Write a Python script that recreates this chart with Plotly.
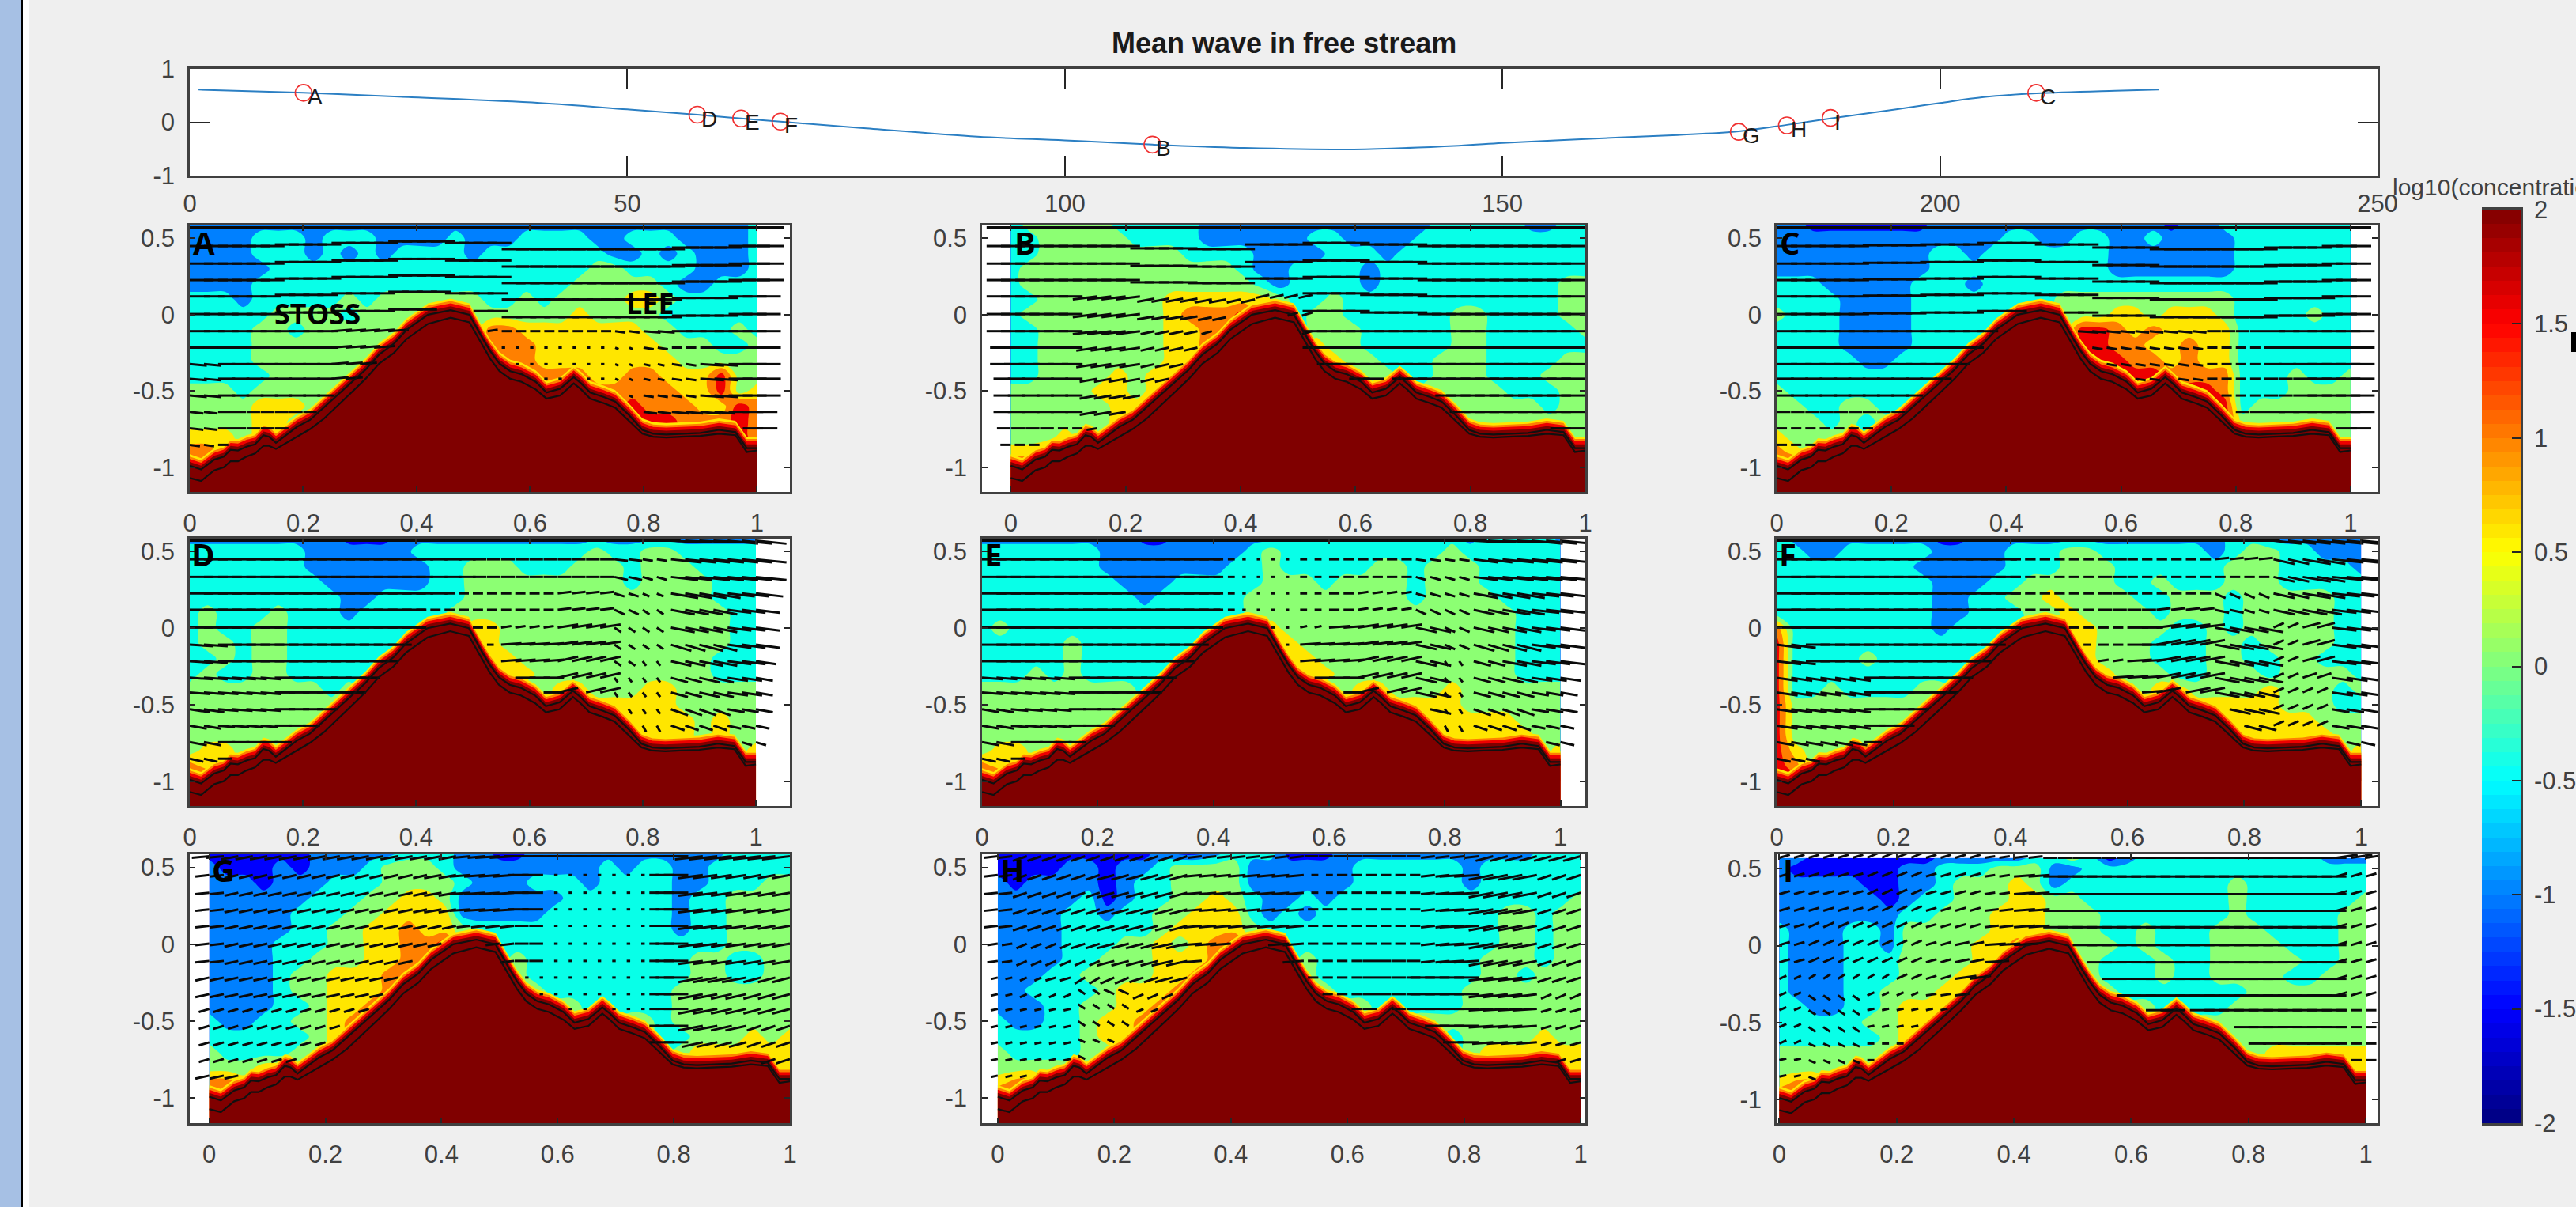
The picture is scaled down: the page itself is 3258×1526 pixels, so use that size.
import numpy as np
import plotly.graph_objects as go

W, H = 3258, 1526
# ---------- top panel ----------
WAVE_X = [1, 13, 25, 40, 50, 58, 63, 67.5, 77, 90, 100, 110, 120, 133, 145, 150, 160, 170, 177, 182.5, 187.5, 195, 200, 205, 211, 220, 225]
WAVE_Y = [.61, .55, .47, .36, .24, .14, .07, .01, -.11, -.27, -.34, -.42, -.48, -.51, -.44, -.39, -.31, -.24, -.17, -.05, .07, .24, .36, .47, .54, .59, .61]
POINT_LABELS = ["A", "D", "E", "F", "B", "G", "H", "I", "C"]
POINT_X = [13, 58, 63, 67.5, 110, 177, 182.5, 187.5, 211]
POINT_Y = [.55, .14, .07, .01, -.42, -.18, -.06, .08, .55]

# ---------- sea bed ----------
BED_X = [0, .02, .043, .06, .072, .085, .1, .115, .13, .14, .152, .17, .189, .212, .237, .26, .285, .31, .334, .36, .382, .42, .46, .493, .517, .53, .546, .565, .585, .61, .629, .653, .677, .69, .706, .73, .75, .775, .798, .817, .84, .866, .9, .933, .962, .982, 1]
BED_UPPER = [-.99, -1.015, -.95, -.93, -.885, -.89, -.865, -.85, -.79, -.80, -.84, -.79, -.735, -.69, -.605, -.53, -.44, -.36, -.26, -.19, -.10, 0, .03, 0, -.16, -.24, -.32, -.37, -.39, -.44, -.51, -.485, -.41, -.45, -.51, -.54, -.57, -.66, -.755, -.78, -.785, -.78, -.775, -.755, -.77, -.875, -.875]
BED_LOWER = [-1.07, -1.09, -1.02, -1.0, -.96, -.96, -.93, -.91, -.86, -.86, -.88, -.84, -.8, -.75, -.68, -.6, -.51, -.42, -.32, -.25, -.16, -.06, -.02, -.05, -.21, -.29, -.37, -.42, -.44, -.49, -.55, -.53, -.45, -.49, -.55, -.58, -.61, -.7, -.78, -.8, -.805, -.8, -.795, -.78, -.79, -.9, -.89]
BAND_OFFSETS = [.075, .06, .045, .025]
BAND_COLORS = ["#ffe600", "#ff8000", "#ee0000", "#800000"]

# ---------- concentration classes (log10 band centres and colours) ----------
CLASS_VALUES = [-1.25, -.75, -.25, .25, .75, 1.25, 1.75, 2.25]
CLASS_COLORS = ["#0000ff", "#0080ff", "#08ffe8", "#8cff73", "#ffe600", "#ff8000", "#ee0000", "#800000"]
FIELD_Y = [.6, .5, .4, .3, .2, .1, 0, -.1, -.2, -.3, -.4, -.5, -.6, -.7, -.8, -.9, -1]

FIELD_A = [
"11111111 11111111 11111111 11111111 2",
"11112221 22211112 11122221 12221111 2",
"11112221 21212222 12222222 11212111 2",
"11111222 22222222 22222223 32222111 2",
"11112222 22222222 22222233 33321122 2",
"22212222 23233333 32232333 34432222 2",
"22222333 32333333 33333343 33322222 2",
"22223323 33333... .5544444 44332223 2",
"22223333 3333.... .5554444 44433322 3",
"22223333 333..... ..554444 44443333 3",
"22222333 33...... ...55554 45544463 3",
"33323333 3....... .......5 55554463 4",
"33334443 ........ ........ .6555446 5",
"3333443. ........ ........ ..665556 5",
"444344.. ........ ........ ........ 5",
"554..... ........ ........ ........ 6",
"66...... ........ ........ ........ 6"]
FIELD_B = [
"23333322 22211111 11111111 22222112 2",
"22333332 22211111 12211112 22222222 2",
"22333333 33222211 11222122 22222222 2",
"23333333 33333211 22221222 22222222 2",
"23333333 33333321 22221222 22222223 3",
"22333333 34444443 22322222 22222223 3",
"23333333 345556.. .3322222 23322223 3",
"22333333 34455... .3332222 23322222 3",
"22333333 3445.... .4332222 23322222 2",
"22333333 344..... ..433222 33322223 3",
"22333343 44...... ...43322 33322233 3",
"33333443 4....... .......3 33332223 3",
"33333344 ........ ........ .3333323 3",
"3333334. ........ ........ ..333333 3",
"33343... ........ ........ ........ 3",
"445..... ........ ........ ........ 4",
"66...... ........ ........ ........ 6"]
FIELD_C = [
"11000000 01111111 11111101 12222222 2",
"11111111 11111221 12211211 11222222 2",
"11111111 12212222 22211111 11222222 2",
"11111111 12222222 22211111 11222222 2",
"22211111 22212222 22222222 22222222 2",
"22221111 22222222 33333333 33222222 2",
"32221111 222222.. .3344344 43222232 2",
"22221111 22222... .6654544 44222222 2",
"22221111 2222.... .6655445 44222222 2",
"22222112 222..... ..665545 44222222 2",
"22222222 22...... ...66655 55222322 3",
"32222222 2....... .......6 65222333 3",
"33223322 ........ ........ .6233333 3",
"3332323. ........ ........ ..333333 3",
"43333... ........ ........ ........ 3",
"54...... ........ ........ ........ 4",
"66...... ........ ........ ........ 6"]
FIELD_D = [
"11111111 10001111 11111111 11111111 1",
"22222221 11111222 22222223 22332222 2",
"22222221 11111122 33322233 32333222 2",
"22222222 11111122 33333333 32333322 2",
"22222222 21122222 33333333 33333322 2",
"23222322 21222223 33333333 33333332 2",
"23223322 222222.. 44333333 33333332 2",
"23323322 22222... .4333333 33333332 2",
"22323322 2222.... .4433333 33333322 2",
"23223322 222..... ..443333 33333322 2",
"33333333 23...... ...33443 33443333 3",
"33333333 3....... .......4 44443333 3",
"33333333 ........ ........ .4444343 3",
"3333333. ........ ........ ..444343 3",
"34433... ........ ........ ........ 4",
"544..... ........ ........ ........ 4",
"66...... ........ ........ ........ 6"]
FIELD_E = [
"11111111 10011111 12222222 22212222 1",
"22222221 11111112 32222222 22322222 2",
"22222221 11111122 32222233 23332222 2",
"22222222 11122222 33323333 23332222 2",
"22222222 21222223 33333333 23333222 2",
"22222222 22222223 33333333 33333322 2",
"23222222 222222.. 43333333 33333322 2",
"22222322 22222... .4333333 33333322 2",
"22222322 2222.... .4433333 33333322 2",
"22232322 222..... ..443333 33333322 2",
"33333333 32...... ...33443 33433333 3",
"33333333 3....... .......4 44433333 3",
"33333333 ........ ........ .4444433 3",
"3333333. ........ ........ ..444443 3",
"34433... ........ ........ ........ 4",
"544..... ........ ........ ........ 4",
"66...... ........ ........ ........ 6"]
FIELD_F = [
"21111111 10011111 11111111 12211111 1",
"22112222 21111222 33222222 12332211 1",
"22222222 11111222 33322222 23332222 1",
"22222222 21112233 33322322 23332222 2",
"22222222 21122334 33332233 32333332 2",
"22222222 21122233 43333233 32333332 2",
"52222222 212222.. 44333322 32333332 2",
"62222222 22222... .4333222 33233332 2",
"62222322 2222.... .4333222 33223322 2",
"62222222 222..... ..433322 33323333 2",
"62232222 33...... ...33443 33343332 3",
"63333333 3....... .......4 44443332 2",
"63333333 ........ ........ .4444433 3",
"6333333. ........ ........ ..444443 3",
"64333... ........ ........ ........ 4",
"65...... ........ ........ ........ 4",
"66...... ........ ........ ........ 6"]
FIELD_G = [
"00000011 11122211 00111111 11111222 2",
"10001011 12333211 11111121 22112222 2",
"11101112 22333321 11222122 22112223 3",
"11111122 23344311 11112222 22122333 3",
"11111222 33444411 11122222 22122333 3",
"11111223 34454432 22222222 22122333 3",
"11112223 344556.. ..222222 22222333 3",
"11112233 34455... .3222222 22233223 3",
"11112334 4455.... .3222222 22233223 3",
"11112334 445..... ..322222 22333333 3",
"11112234 45...... ...33222 22333333 3",
"21122334 5....... .......3 32333333 3",
"22222234 ........ ........ .2233343 4",
"3222233. ........ ........ ..344444 4",
"33344... ........ ........ ........ 4",
"554..... ........ ........ ........ 4",
"66...... ........ ........ ........ 6"]
FIELD_H = [
"00000000 01001222 00011111 11111122 2",
"00001101 12333311 11112222 22122222 2",
"10111101 22333311 11112222 22122222 2",
"11111201 22334321 12122222 22222222 3",
"11112212 23344421 21222222 22223323 3",
"11112222 23444432 22222222 22223323 3",
"11112223 343456.. ..222222 22223323 3",
"11112233 34445... .3222222 22233323 3",
"11122333 3445.... .3222222 22233233 3",
"11222234 445..... ..322222 22333333 3",
"11122334 45...... ...33222 22333333 3",
"21122344 5....... .......3 33333333 3",
"22222344 ........ ........ .2333343 3",
"3222233. ........ ........ ..344444 4",
"33333... ........ ........ ........ 4",
"455..... ........ ........ ........ 5",
"66...... ........ ........ ........ 6"]
FIELD_I = [
"11000000 01111122 32012222 22222211 1",
"10000001 12223331 12222222 22222222 2",
"11111001 12333431 22222222 23222222 2",
"11111101 22333443 32222222 23222222 3",
"11111112 23334443 33222222 23222223 3",
"21112213 33334443 33223222 33322223 3",
"21112213 333445.. ..323222 33332223 3",
"21112223 33344... .3222322 33333223 3",
"21112223 3344.... .3222322 33332233 3",
"21112233 344..... ..322222 22333333 3",
"22112234 44...... ...33222 23333333 3",
"22222334 4....... .......3 33333333 3",
"22222234 ........ ........ .3333333 3",
"3333333. ........ ........ ..344444 4",
"33333... ........ ........ ........ 4",
"455..... ........ ........ ........ 5",
"66...... ........ ........ ........ 6"]

# ---------- velocity arrows: length codes (x step .05) and rise codes (x step .1) ----------
ARROW_ROWS = [.572, .45, .335, .227, .12, .004, -.108, -.216, -.324, -.42, -.53, -.637, -.745, -.853]
ARROW_DIR = [1, -1, 1, 1, 1, 1, -1, -1, 1]
# vertical displacement of the fast upper rows along x (step .1), phases A, B, C
ROW_BEND_A = [0, 0, .01, .02, .03, .02, -.02, -.02, -.02, -.01, 0]
ROW_BEND_B = [0, 0, 0, -.015, -.02, .01, .02, .01, 0, 0, 0]
ROW_BEND_C = [0, 0, .005, .01, .02, .01, -.01, -.02, -.02, -.01, 0]
U_A = ["777777777778888888888", "777777777778888888888", "777777777778888888888", "777777777777778888888", "666666666666667777777", "666666666666666677777", "666666666333333356777", "666666666661111133777", "555555555551111123777", "555555555551111123777", "555555555551111133777", "444444444441111145666", "444444444441111145566", "334444444441111144444"]
U_B = ["777777777777777777777", "777777777777777777777", "777777777777777777777", "777777777777777777777", "777775554447777777777", "777775543337777777777", "777774433337777777777", "666664433337777777777", "666664433337777777777", "555554433336666777777", "555554433336666677777", "555553333335555667777", "443333333334444446666", "333333333334444445555"]
U_C = ["666666666666788888766", "666666666666788888766", "666666666666788888766", "666666666666788888766", "666666666666788888866", "666666666666678888866", "666666666664444446777", "666666666663333335777", "666666666663333335777", "555555555553333334777", "555555555553333334777", "444444444444444446777", "333333333333333333666", "333333333333333333555"]
U_D = ["666666677777777778999", "777777775544444439999", "777777775544444438999", "777777775333344328888", "777777773333344327777", "777777773333366227777", "777777772226666226777", "777777762226666216776", "776666662226666115665", "666666666666666115665", "666665555556664115555", "555555555556664114444", "555555555556664113333", "444444444444444333333"]
U_E = ["777777777776777788999", "777777772112333337999", "777777772112333337999", "777777772112333337888", "777777772112333336888", "777777772112666636777", "777777772116666636777", "777777772116666615777", "666666662116666615666", "666666662116666615555", "555555555556666615555", "555555555555555514444", "555555555555555514444", "444444444444444443333"]
U_F = ["666666666666666668899", "666666663334333446899", "777777773334333336899", "777777773334333336888", "777777773334444436777", "777777773333677773577", "777777772223777773577", "777777772223777773577", "666666662226677773466", "666666662226677763366", "666665555555566663355", "666665555555555553355", "555555555555555553344", "444444444444444443333"]
U_G = ["555555555577777778888", "444444445666111177655", "444444445666111177655", "444444445666111177655", "444444444444111177655", "444444444444111177655", "444444444444111177655", "444444444441111177755", "444444444411111177655", "333333333311111177655", "333333333311111177644", "333333333311111176544", "333333333311111166444", "444444444411111155333"]
U_H = ["444444444444444445555", "444455555552333477744", "444455555552333477744", "444455555553333477744", "444455555553333477744", "333455666663333477744", "333355666663344477744", "223344555533344777744", "222233344433344777733", "222222233333344777733", "222222233333344777733", "222222233333346666633", "222222233333344444433", "222222233333344444433"]
U_I = ["333333334444777777766", "333333336777777777733", "333333336777777777733", "333333346777777777733", "333333346777777777733", "333333467777777777733", "333333477777777777733", "222233677777777777733", "222223477777777777733", "222222677777777777733", "222223777777777777733", "222223555555555555533", "222223333333333333333", "222223333333333333333"]

V_A = ["00000000000"]*6 + ["00011100a00", "00011100a00", "a0011100aa0", "a0011100aa0", "a0011100aa0", "a0011000aa0", "a00000000a0", "a0000000000"]
V_B = ["00000000000"]*4 + ["00222200000"]*8 + ["00111100000"]*2
V_C = ["00000000000"]*6 + ["00000aaa000"]*5 + ["00000000000"]*3
V_D = ["000000000ab", "00000000abb", "00000000bbb", "00000001bcb", "00000001ccb", "00000012ccb", "a0000012cdb", "a0000013ccb", "aa000003ccb", "aa000003ccb", "ba000003cdb", "ba000003dcb", "b0000000ccb", "b0000000000"]
V_E = ["000000000ab", "00000000abb", "00000000bbb", "00000001bcb", "00000001ccb", "00000012ccb", "00000012cdb", "00000013ccb", "aa000003ccb", "aa000003ccb", "ba000003cdb", "ba000003dcb", "b0000000ccb", "b0000000000"]
V_F = ["000000000bb", "000000001cb", "000000000cb", "00000000ccb", "00000001bcb", "00000002c3b", "b0000003c3b", "b0000013c3b", "bb000013c3b", "bb000013c3b", "bb000013c3b", "bb000012c3b", "bb000002c3b", "bb00000000b"]
V_G = ["12222100022"]*7 + ["22222200033"]*7
V_H = ["13331100133"]*7 + ["12431000023", "12c31000023", "11c20000012", "11c20000012", "11b10000012", "11b10000012", "11000000012"]
V_I = ["22321000002"]*4 + ["23321000002"]*4 + ["2c211000002", "2c111000000", "2c111000000", "2b011000000", "1b000000000", "1b000000000"]

FIELDS = [FIELD_A, FIELD_B, FIELD_C, FIELD_D, FIELD_E, FIELD_F, FIELD_G, FIELD_H, FIELD_I]
U_CODES = [U_A, U_B, U_C, U_D, U_E, U_F, U_G, U_H, U_I]
V_CODES = [V_A, V_B, V_C, V_D, V_E, V_F, V_G, V_H, V_I]
ROW_BENDS = [ROW_BEND_A, ROW_BEND_B, ROW_BEND_C]
PANEL_NAMES = list("ABCDEFGHI")
X_RANGES = [[0, 1.058], [-.05, 1], [0, 1.047], [0, 1.06], [0, 1.043], [0, 1.028], [-.0336, 1], [-.027, 1.008], [-.0046, 1.02]]
COL_PX = [(240, 999), (1242, 2005), (2247, 3007)]
ROW_PX = [(285, 622), (681, 1019), (1080, 1420)]
LETTER_PX = [(242, 306), (1281, 306), (2249, 306), (240, 701), (1243, 701), (2248, 701), (266, 1099), (1263, 1099), (2253, 1099)]

XTICKS = [0, .2, .4, .6, .8, 1]
XTICKTEXT = ["0", "0.2", "0.4", "0.6", "0.8", "1"]
YTICKS = [.5, 0, -.5, -1]
YTICKTEXT = ["0.5", "0", "-0.5", "-1"]
CB_TICKS = [2, 1.5, 1, .5, 0, -.5, -1, -1.5, -2]
CB_TEXT = ["2", "1.5", "1", "0.5", "0", "-0.5", "-1", "-1.5", "-2"]

AX = "#404040"
FONT = "Liberation Sans"
TICK = dict(family=FONT, size=31, color="#404040")


def xd(a, b):
    return [a / W, b / W]


def yd(a, b):
    return [1 - b / H, 1 - a / H]


def decode(rows):
    out, prev = [], None
    for r in rows:
        s = r.replace(" ", "")
        cur = []
        for i, c in enumerate(s):
            if c == ".":
                cur.append(prev[i] if prev else CLASS_VALUES[2])
            else:
                cur.append(CLASS_VALUES[int(c)])
        out.append(cur)
        prev = cur
    return out


def v_code(c):
    if c.isdigit():
        return int(c) * .01
    return -(ord(c) - 96) * .01


# stepped scale: contour fill colours sit at band centres on -2 .. 2.5
stops = []
edges = np.arange(-1.5, 2.5001, .5)
for i, c in enumerate(CLASS_COLORS):
    a, b = (edges[i] + 2) / 4.5, (edges[i + 1] + 2) / 4.5
    stops += [[a, c], [b, c]]
stops = [[0, CLASS_COLORS[0]]] + stops

fig = go.Figure()
layout = {}

# top panel
fig.add_trace(go.Scatter(x=WAVE_X, y=WAVE_Y, mode="lines", line=dict(color="#2b7fc3", width=2, shape="spline"), xaxis="x", yaxis="y", hoverinfo="skip"))
fig.add_trace(go.Scatter(x=POINT_X, y=POINT_Y, mode="markers", marker=dict(symbol="circle-open", size=21, color="#f03030", line=dict(width=1.6, color="#f03030")), xaxis="x", yaxis="y", hoverinfo="skip"))
layout["xaxis"] = dict(domain=xd(240, 3007), range=[0, 250], anchor="y", tickmode="array", tickvals=[0, 50, 100, 150, 200, 250], ticktext=["0", "50", "100", "150", "200", "250"], ticks="inside", ticklen=25, tickcolor="#262626", tickwidth=2, showline=True, linecolor=AX, linewidth=2.5, mirror="ticks", showgrid=False, zeroline=False, tickfont=TICK, ticklabelstandoff=6)
layout["yaxis"] = dict(domain=yd(87, 222), range=[-1, 1], anchor="x", tickmode="array", tickvals=[1, 0, -1], ticktext=["1", "0", "-1"], ticks="inside", ticklen=25, tickcolor="#262626", tickwidth=2, showline=True, linecolor=AX, linewidth=2.5, mirror="ticks", showgrid=False, zeroline=False, tickfont=TICK, ticklabelstandoff=10)

ann = []
for lab, px, py in zip(POINT_LABELS, POINT_X, POINT_Y):
    ann.append(dict(x=px, y=py, xref="x", yref="y", xanchor="left", text=lab, showarrow=False, xshift=3, yshift=-5, font=dict(family=FONT, size=28, color="#1a1a1a")))

# nine panels
for k in range(9):
    n = k + 2
    xa, ya = f"x{n}", f"y{n}"
    col, row = k % 3, k // 3
    top_y = .57 if k == 8 else FIELD_Y[0]
    ygrid = [top_y] + FIELD_Y[1:]
    z = decode(FIELDS[k])
    xgrid = [i / 32 for i in range(33)]
    fig.add_trace(go.Contour(x=xgrid, y=ygrid, z=z, xaxis=xa, yaxis=ya, autocontour=False, zmin=-2, zmax=2.5,
                             contours=dict(start=-1.5, end=2, size=.5, coloring="fill", showlines=False),
                             colorscale=stops, showscale=False, line=dict(width=0), hoverinfo="skip"))
    for off, colr in zip(BAND_OFFSETS, BAND_COLORS):
        fig.add_trace(go.Scatter(x=[0] + BED_X + [1], y=[-1.3] + [u + off for u in BED_UPPER] + [-1.3], mode="lines", fill="toself", fillcolor=colr, line=dict(width=0), xaxis=xa, yaxis=ya, hoverinfo="skip"))
    # arrows
    ax_x, ax_y = [], []
    d = ARROW_DIR[k]
    for r, y0 in enumerate(ARROW_ROWS):
        for j in range(41):
            x0 = j * .025
            yy = y0
            if k < 3 and 1 <= r <= 5:
                yy = y0 + ROW_BENDS[k][(j + 2) // 4]
            if yy < np.interp(x0, BED_X, BED_UPPER) + .045:
                continue
            ustr, vstr = U_CODES[k][r], V_CODES[k][r]
            dx = int(ustr[min(j // 2, len(ustr) - 1)]) * .006
            dy = v_code(vstr[min((j + 2) // 4, len(vstr) - 1)])
            ax_x += [x0, x0 + d * dx, None]
            ax_y += [yy, yy + d * dy, None]
    fig.add_trace(go.Scatter(x=ax_x, y=ax_y, mode="lines", line=dict(color="#0a0a0a", width=3), xaxis=xa, yaxis=ya, hoverinfo="skip"))
    for arr in (BED_UPPER, BED_LOWER):
        fig.add_trace(go.Scatter(x=BED_X, y=arr, mode="lines", line=dict(color="#101010", width=2.2), xaxis=xa, yaxis=ya, hoverinfo="skip"))
    yr = [-1.155, .595] if k == 8 else [-1.162, .585]
    common = dict(ticks="inside", ticklen=7, tickcolor="#262626", tickwidth=2, showline=True, linecolor=AX, linewidth=2.5, mirror="ticks", showgrid=False, zeroline=False, tickfont=TICK, tickmode="array", ticklabelstandoff=10)
    layout[f"xaxis{n}"] = dict(domain=xd(*COL_PX[col]), range=X_RANGES[k], anchor=ya, tickvals=XTICKS, ticktext=XTICKTEXT, **common)
    layout[f"yaxis{n}"] = dict(domain=yd(*ROW_PX[row]), range=yr, anchor=xa, tickvals=YTICKS, ticktext=YTICKTEXT, **common)
    lx, ly = LETTER_PX[k]
    ann.append(dict(x=lx / W, y=1 - ly / H, xref="paper", yref="paper", xanchor="left", yanchor="middle", text=f"<b>{PANEL_NAMES[k]}</b>", showarrow=False, font=dict(family="Open Sans", size=40, color="#000000")))

# colourbar as its own axes: jet, 64 steps
CB_LEVELS = [-2 + (i + .5) / 16 for i in range(64)]
jet = []
for i in range(64):
    t = (i + .5) / 64
    r, g, b = [int(255 * min(1, max(0, 1.5 - abs(4 * t - c)))) for c in (3, 2, 1)]
    jet += [[i / 64, f"rgb({r},{g},{b})"], [(i + 1) / 64, f"rgb({r},{g},{b})"]]
fig.add_trace(go.Heatmap(x=[0], y=CB_LEVELS, z=[[v] for v in CB_LEVELS], zmin=-2, zmax=2, colorscale=jet, showscale=False, xaxis="x11", yaxis="y11", hoverinfo="skip"))
layout["xaxis11"] = dict(domain=xd(3139, 3188), anchor="y11", range=[-.5, .5], showticklabels=False, ticks="", showline=True, linecolor=AX, linewidth=2.5, mirror=True, showgrid=False, zeroline=False)
layout["yaxis11"] = dict(domain=yd(265, 1420), anchor="x11", side="right", range=[-2, 2], tickmode="array", tickvals=CB_TICKS, ticktext=CB_TEXT, ticks="inside", ticklen=11, tickcolor="#262626", tickwidth=2, showline=True, linecolor=AX, linewidth=2.5, showgrid=False, zeroline=False, tickfont=TICK, ticklabelstandoff=8)

ann += [
    dict(x=1624 / W, y=1 - 55 / H, xref="paper", yref="paper", yanchor="middle", text="<b>Mean wave in free stream</b>", showarrow=False, font=dict(family=FONT, size=36, color="#1a1a1a")),
    dict(x=3024 / W, y=1 - 237 / H, xref="paper", yref="paper", xanchor="left", yanchor="middle", text="log10(concentration)", showarrow=False, font=dict(family=FONT, size=30, color="#404040")),
    dict(x=345 / W, y=1 - 396 / H, xref="paper", yref="paper", xanchor="left", yanchor="middle", text="<b>STOSS</b>", showarrow=False, font=dict(family="Open Sans", size=36, color="#000000")),
    dict(x=790 / W, y=1 - 384 / H, xref="paper", yref="paper", xanchor="left", yanchor="middle", text="<b>LEE</b>", showarrow=False, font=dict(family="Open Sans", size=36, color="#000000")),
]

shapes = [
    dict(type="rect", xref="paper", yref="paper", x0=0, x1=27 / W, y0=0, y1=1, fillcolor="#a6c0e4", line_width=0, layer="below"),
    dict(type="rect", xref="paper", yref="paper", x0=27 / W, x1=29 / W, y0=0, y1=1, fillcolor="#000000", line_width=0, layer="below"),
    dict(type="rect", xref="paper", yref="paper", x0=29 / W, x1=37 / W, y0=0, y1=1, fillcolor="#ffffff", line_width=0, layer="below"),
    dict(type="rect", xref="paper", yref="paper", x0=3252 / W, x1=1, y0=1 - 445 / H, y1=1 - 420 / H, fillcolor="#000000", line_width=0),
]

fig.update_layout(width=W, height=H, margin=dict(l=0, r=0, t=0, b=0, autoexpand=False), paper_bgcolor="#efefef", plot_bgcolor="#ffffff", showlegend=False, annotations=ann, shapes=shapes, **layout)
fig.write_html("out.html", config=dict(displayModeBar=False), post_script="document.body.style.margin='0';document.body.style.overflow='hidden';")
